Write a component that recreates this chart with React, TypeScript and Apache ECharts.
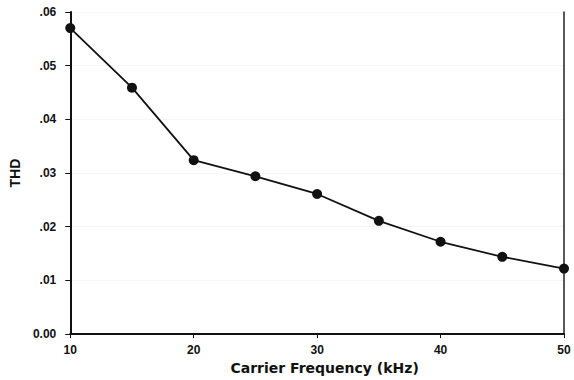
import React, { useEffect, useRef } from "react";
import * as echarts from "echarts";

const frequencies = [10, 15, 20, 25, 30, 35, 40, 45, 50];
const thdValues = [0.057, 0.0459, 0.0324, 0.0294, 0.0261, 0.0211, 0.0172, 0.0144, 0.0122];
const xTicks = [10, 20, 30, 40, 50];
const yTicks = [0, 0.01, 0.02, 0.03, 0.04, 0.05, 0.06];

const fmtY = (v: number) => (Math.abs(v) < 1e-9 ? "0.00" : v.toFixed(2).replace(/^0/, ""));

export default function App() {
  const ref = useRef<HTMLDivElement>(null);
  useEffect(() => {
    if (!ref.current) return;
    const chart = echarts.init(ref.current, null, { renderer: "svg" });
    const font = "'Liberation Sans', Arial, sans-serif";
    const wide = "'DejaVu Sans', sans-serif";
    chart.setOption({
      animation: false,
      backgroundColor: "#ffffff",
      grid: { left: 68, right: 10, top: 12, bottom: 44, containLabel: false },
      xAxis: {
        type: "value",
        min: xTicks[0],
        max: xTicks[xTicks.length - 1],
        interval: 10,
        name: "Carrier Frequency (kHz)",
        nameLocation: "middle",
        nameGap: 25,
        nameTextStyle: { fontFamily: wide, fontWeight: "bold", fontSize: 14, color: "#111", padding: [0, 0, 0, 15] },
        axisLine: { show: true, lineStyle: { color: "#111", width: 2 } },
        axisTick: { show: true, length: 4, lineStyle: { color: "#111" } },
        axisLabel: { fontFamily: font, fontWeight: "bold", fontSize: 12, color: "#111", margin: 10 },
        splitLine: { show: false },
      },
      yAxis: [
        {
          type: "value",
          min: yTicks[0],
          max: yTicks[yTicks.length - 1],
          interval: 0.01,
          name: "THD",
          nameLocation: "middle",
          nameGap: 43,
          nameRotate: 90,
          nameTextStyle: { fontFamily: font, fontWeight: "bold", fontSize: 14, color: "#111" },
          axisLine: { show: true, lineStyle: { color: "#111", width: 2 } },
          axisTick: { show: true, length: 5, lineStyle: { color: "#111" } },
          axisLabel: { fontFamily: font, fontWeight: "bold", fontSize: 12, color: "#111", margin: 14, formatter: fmtY },
          splitLine: { show: true, lineStyle: { color: "#ececec", type: "dotted" } },
        },
        {
          type: "value",
          position: "right",
          min: yTicks[0],
          max: yTicks[yTicks.length - 1],
          interval: 0.01,
          axisLine: { show: true, lineStyle: { color: "#222", width: 1.5 } },
          axisTick: { show: false },
          axisLabel: { show: false },
          splitLine: { show: false },
        },
      ],
      series: [
        {
          type: "line",
          yAxisIndex: 0,
          data: frequencies.map((f, i) => [f, thdValues[i]]),
          symbol: "circle",
          symbolSize: 10,
          itemStyle: { color: "#111" },
          lineStyle: { color: "#111", width: 1.8 },
        },
      ],
    });
    return () => chart.dispose();
  }, []);
  return <div ref={ref} style={{ width: 574, height: 380, position: "absolute", left: 0, top: 0 }} />;
}
